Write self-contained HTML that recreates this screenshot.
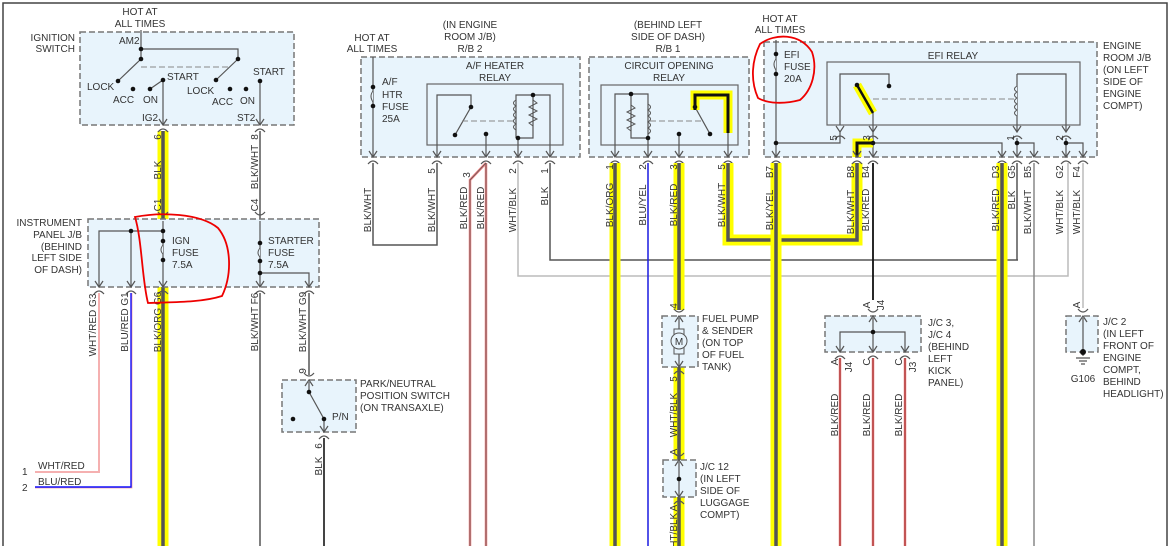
<!DOCTYPE html>
<html><head><meta charset="utf-8"><style>
html,body{margin:0;padding:0;background:#fff;width:1171px;height:546px;overflow:hidden}
svg{display:block}
text{font-family:"Liberation Sans",sans-serif;font-size:10px;fill:#333}
.bx{fill:#e8f4fc;stroke:#777;stroke-width:1.5;stroke-dasharray:6,3}
.in{fill:none;stroke:#555;stroke-width:1.2}
.w{fill:none;stroke:#555;stroke-width:1.5}
.y{fill:none;stroke:#ffff00;stroke-width:11}
.yc{fill:none;stroke:#555;stroke-width:3.5}
.d{fill:#111}
.ds{stroke:#888;stroke-width:1;stroke-dasharray:6,3;fill:none}
.rc{fill:none;stroke:#e00;stroke-width:1.8}
</style></head><body>
<svg width="1171" height="546" viewBox="0 0 1171 546" xmlns="http://www.w3.org/2000/svg">
<defs>
<g id="ar"><path d="M-4,-6 L0,0 L4,-6" fill="none" stroke="#555" stroke-width="1.2"/><path d="M-5,7 Q0,1 5,7" fill="none" stroke="#555" stroke-width="1.2"/></g>
<g id="au"><path d="M-4,6 L0,0 L4,6" fill="none" stroke="#555" stroke-width="1.2"/><path d="M-5,-7 Q0,-1 5,-7" fill="none" stroke="#555" stroke-width="1.2"/></g>
</defs>
<path d="M3,546 V3 H1167 V546" fill="none" stroke="#444" stroke-width="1.5"/>

<!-- Ignition switch -->
<rect class="bx" x="80" y="32" width="214" height="93"/>
<text x="140" y="15" text-anchor="middle">HOT AT</text><text x="140" y="27" text-anchor="middle">ALL TIMES</text>
<text x="75" y="41" text-anchor="end">IGNITION</text><text x="75" y="52" text-anchor="end">SWITCH</text>
<text x="119" y="44">AM2</text>
<path class="in" d="M141,30 V59 M141,49 H238 V59 M141,59 L118,81 M238,59 L216,80 M150,89 L163,80 M163,80 V125 M260,81 V125"/>
<path class="ds" d="M141,67 H230"/>
<circle class="d" cx="141" cy="49" r="2.3"/><circle class="d" cx="141" cy="59" r="2.3"/><circle class="d" cx="238" cy="59" r="2.3"/>
<circle class="d" cx="118" cy="81" r="2.3"/><circle class="d" cx="133" cy="89" r="2.3"/><circle class="d" cx="150" cy="89" r="2.3"/><circle class="d" cx="163" cy="80" r="2.3"/>
<circle class="d" cx="216" cy="80" r="2.3"/><circle class="d" cx="230" cy="89" r="2.3"/><circle class="d" cx="246" cy="89" r="2.3"/><circle class="d" cx="260" cy="81" r="2.3"/>
<text x="87" y="90">LOCK</text><text x="113" y="103">ACC</text><text x="143" y="103">ON</text><text x="167" y="80">START</text>
<text x="187" y="94">LOCK</text><text x="212" y="105">ACC</text><text x="240" y="104">ON</text><text x="253" y="75">START</text>
<text x="142" y="121">IG2</text><text x="237" y="121">ST2</text>

<path class="y" d="M163,131 V546"/><path class="yc" d="M163,131 V546"/>
<path class="w" d="M260,131 V219"/>
<use href="#ar" x="163" y="125"/><use href="#ar" x="260" y="125"/>
<use href="#au" x="163" y="219"/><use href="#au" x="260" y="219"/>
<g text-anchor="middle">
<text transform="translate(161,137) rotate(-90)">6</text><text transform="translate(161,170) rotate(-90)">BLK</text><text transform="translate(161,205) rotate(-90)">C1</text>
<text transform="translate(258,137) rotate(-90)">8</text><text transform="translate(258,167) rotate(-90)">BLK/WHT</text><text transform="translate(258,205) rotate(-90)">C4</text>
</g>

<!-- Instrument panel J/B -->
<rect class="bx" x="88" y="219" width="231" height="68"/>
<text x="82" y="226" text-anchor="end">INSTRUMENT</text><text x="82" y="238" text-anchor="end">PANEL J/B</text><text x="82" y="250" text-anchor="end">(BEHIND</text><text x="82" y="261" text-anchor="end">LEFT SIDE</text><text x="82" y="273" text-anchor="end">OF DASH)</text>
<path class="in" d="M163,221 V287 M163,231 H99 V287 M131,231 V287 M260,221 V287 M260,273 H309 V287"/>
<path d="M163,245 q-4,5 0,9 M260,248 q-4,5 0,9" fill="#e8f4fc" stroke="#555"/>
<circle class="d" cx="163" cy="231" r="2.3"/><circle class="d" cx="131" cy="231" r="2.3"/><circle class="d" cx="163" cy="241" r="2.3"/><circle class="d" cx="163" cy="260" r="2.3"/>
<circle class="d" cx="260" cy="243" r="2.3"/><circle class="d" cx="260" cy="261" r="2.3"/><circle class="d" cx="260" cy="273" r="2.3"/>
<text x="172" y="244">IGN</text><text x="172" y="256">FUSE</text><text x="172" y="268">7.5A</text>
<text x="268" y="244">STARTER</text><text x="268" y="256">FUSE</text><text x="268" y="268">7.5A</text>
<use href="#ar" x="99" y="287"/><use href="#ar" x="131" y="287"/><use href="#ar" x="163" y="287"/><use href="#ar" x="260" y="287"/><use href="#ar" x="309" y="287"/>
<path d="M99,293 V472 H35" fill="none" stroke="#f5b0b0" stroke-width="2"/>
<path d="M131.8,293 V487.8 H35" fill="none" stroke="#f5a0a0" stroke-width="1.2"/><path d="M131,293 V487 H35" fill="none" stroke="#1010ff" stroke-width="1.4"/>
<path class="w" d="M260,293 V546 M309,293 V375"/>
<text x="22" y="475">1</text><text x="38" y="469">WHT/RED</text><text x="22" y="491">2</text><text x="38" y="485">BLU/RED</text>
<g text-anchor="middle">
<text transform="translate(96,325) rotate(-90)">WHT/RED  G3</text>
<text transform="translate(128,322) rotate(-90)">BLU/RED  G1</text>
<text transform="translate(161,322) rotate(-90)">BLK/ORG  G6</text>
<text transform="translate(258,322) rotate(-90)">BLK/WHT  F6</text>
<text transform="translate(306,322) rotate(-90)">BLK/WHT  G9</text>
<text transform="translate(306,371) rotate(-90)">9</text>
<text transform="translate(322,446) rotate(-90)">6</text>
<text transform="translate(322,466) rotate(-90)">BLK</text>
</g>
<rect class="bx" x="282" y="380" width="74" height="52"/>
<use href="#au" x="309" y="380"/>
<path class="in" d="M309,382 V392 L324,419 V432"/>
<circle class="d" cx="309" cy="392" r="2.3"/><circle class="d" cx="324" cy="419" r="2.3"/><circle class="d" cx="293" cy="419" r="2.3"/>
<text x="332" y="420">P/N</text>
<use href="#ar" x="324" y="432"/>
<path d="M324,438 V546" fill="none" stroke="#444" stroke-width="2"/>
<text x="360" y="387">PARK/NEUTRAL</text><text x="360" y="399">POSITION SWITCH</text><text x="360" y="411">(ON TRANSAXLE)</text>

<!-- A/F heater -->
<rect class="bx" x="361" y="57" width="219" height="100"/>
<text x="372" y="41" text-anchor="middle">HOT AT</text><text x="372" y="52" text-anchor="middle">ALL TIMES</text>
<text x="470" y="28" text-anchor="middle">(IN ENGINE</text><text x="470" y="40" text-anchor="middle">ROOM J/B)</text><text x="470" y="52" text-anchor="middle">R/B 2</text>
<text x="495" y="69" text-anchor="middle">A/F HEATER</text><text x="495" y="81" text-anchor="middle">RELAY</text>
<rect x="427" y="84" width="136" height="61" fill="none" stroke="#666" stroke-width="1.2"/>
<path class="in" d="M373,57 V157 M437,157 V95 H471 V107 L455,135 M486,134 V157 M518,157 V138 M516,138 V95 H550 V157 M518,138 H533 V95"/>
<path d="M373,91 q-4,5 0,11" fill="#e8f4fc" stroke="#555"/>
<path d="M516,100 q-5,3 0,6 q-5,3 0,6 q-5,3 0,6 q-5,3 0,6 q-5,3 0,6 M533,100 l4,3 -8,4 8,4 -8,4 8,4 -8,4 4,3" fill="none" stroke="#555"/>
<path class="ds" d="M462,121 H515"/>
<circle class="d" cx="373" cy="87" r="2.3"/><circle class="d" cx="373" cy="106" r="2.3"/><circle class="d" cx="471" cy="107" r="2.3"/><circle class="d" cx="455" cy="135" r="2.3"/><circle class="d" cx="486" cy="134" r="2.3"/><circle class="d" cx="533" cy="95" r="2.3"/><circle class="d" cx="518" cy="138" r="2.3"/>
<text x="382" y="85">A/F</text><text x="382" y="98">HTR</text><text x="382" y="110">FUSE</text><text x="382" y="122">25A</text>
<use href="#ar" x="373" y="157"/><use href="#ar" x="437" y="157"/><use href="#ar" x="486" y="157"/><use href="#ar" x="518" y="157"/><use href="#ar" x="550" y="157"/>
<path class="w" d="M373,163 V245 H437 V163"/>
<path d="M486,163 L470,180 V546 M486,163 V546" fill="none" stroke="#f08080" stroke-width="2.5"/><path d="M486,163 L470,180 V546 M486,163 V546" fill="none" stroke="#555" stroke-width="0.8"/>
<path d="M518,163 V276 H1068 V163" fill="none" stroke="#bbb" stroke-width="1.5"/>
<path d="M550,163 V260 H1018" fill="none" stroke="#555" stroke-width="1.5"/>
<g text-anchor="middle">
<text transform="translate(371,210) rotate(-90)">BLK/WHT</text>
<text transform="translate(435,171) rotate(-90)">5</text><text transform="translate(435,210) rotate(-90)">BLK/WHT</text>
<text transform="translate(470,175) rotate(-90)">3</text><text transform="translate(467,208) rotate(-90)">BLK/RED</text><text transform="translate(484,208) rotate(-90)">BLK/RED</text>
<text transform="translate(516,171) rotate(-90)">2</text><text transform="translate(516,210) rotate(-90)">WHT/BLK</text>
<text transform="translate(548,171) rotate(-90)">1</text><text transform="translate(548,196) rotate(-90)">BLK</text>
</g>

<!-- Circuit opening relay -->
<rect class="bx" x="589" y="57" width="160" height="100"/>
<text x="668" y="28" text-anchor="middle">(BEHIND LEFT</text><text x="668" y="40" text-anchor="middle">SIDE OF DASH)</text><text x="668" y="52" text-anchor="middle">R/B 1</text>
<text x="669" y="69" text-anchor="middle">CIRCUIT OPENING</text><text x="669" y="81" text-anchor="middle">RELAY</text>
<rect x="601" y="85" width="137" height="60" fill="none" stroke="#666" stroke-width="1.2"/>
<path class="in" d="M615,157 V94 H648 V157 M631,94 V138 H648 M679,134 V157 M695,107 L710,134 M728,132 V157"/>
<path d="M631,105 l4,3 -8,4 8,4 -8,4 8,4 -8,4 4,3 M648,104 q5,3 0,6 q5,3 0,6 q5,3 0,6 q5,3 0,6 q5,3 0,6" fill="none" stroke="#555"/>
<path class="ds" d="M650,121 H703"/>
<path d="M695,110 V95 H728 V133" fill="none" stroke="#ffff00" stroke-width="9"/><path d="M695,110 V95 H728 V133" fill="none" stroke="#111" stroke-width="3"/>
<circle class="d" cx="631" cy="94" r="2.3"/><circle class="d" cx="648" cy="138" r="2.3"/><circle class="d" cx="679" cy="134" r="2.3"/><circle class="d" cx="695" cy="107" r="2.3"/><circle class="d" cx="710" cy="134" r="2.3"/>
<use href="#ar" x="615" y="157"/><use href="#ar" x="648" y="157"/><use href="#ar" x="679" y="157"/><use href="#ar" x="728" y="157"/>
<path class="y" d="M615,163 V546 M679,163 V310 M679,367 V462 M679,497 V546"/>
<path class="yc" d="M615,163 V546 M679,163 V310 M679,367 V462 M679,497 V546"/>
<path d="M648,163 V546" fill="none" stroke="#1a1ae0" stroke-width="1.5"/>
<path d="M728,163 V240 H857 V163" fill="none" stroke="#ffff00" stroke-width="11"/>
<path d="M728,163 V240 H857 V163" fill="none" stroke="#555" stroke-width="3.5"/>
<g text-anchor="middle">
<text transform="translate(613,167) rotate(-90)">1</text><text transform="translate(613,205) rotate(-90)">BLK/ORG</text>
<text transform="translate(646,167) rotate(-90)">2</text><text transform="translate(646,205) rotate(-90)">BLU/YEL</text>
<text transform="translate(677,167) rotate(-90)">3</text><text transform="translate(677,205) rotate(-90)">BLK/RED</text>
<text transform="translate(725,167) rotate(-90)">5</text><text transform="translate(725,205) rotate(-90)">BLK/WHT</text>
<text transform="translate(677,306) rotate(-90)">4</text><text transform="translate(677,379) rotate(-90)">5</text>
<text transform="translate(677,415) rotate(-90)">WHT/BLK</text><text transform="translate(677,452) rotate(-90)">A</text>
<text transform="translate(677,508) rotate(-90)">A</text><text transform="translate(677,535) rotate(-90)">WHT/BLK</text>
</g>
<rect class="bx" x="662" y="316" width="36" height="51"/>
<use href="#au" x="679" y="316"/><use href="#ar" x="679" y="367"/>
<path class="in" d="M679,318 V367"/>
<rect x="674" y="329" width="10" height="25" fill="#e8f4fc" stroke="#555"/>
<circle cx="679" cy="341" r="8" fill="#e8f4fc" stroke="#555"/><text x="679" y="345" text-anchor="middle">M</text>
<text x="702" y="322">FUEL PUMP</text><text x="702" y="334">&amp; SENDER</text><text x="702" y="346">(ON TOP</text><text x="702" y="358">OF FUEL</text><text x="702" y="370">TANK)</text>
<rect class="bx" x="663" y="460" width="33" height="37"/>
<use href="#au" x="679" y="460"/><use href="#ar" x="679" y="497"/>
<path class="in" d="M679,462 V497"/><circle class="d" cx="679" cy="479" r="2.3"/>
<text x="700" y="470">J/C 12</text><text x="700" y="482">(IN LEFT</text><text x="700" y="494">SIDE OF</text><text x="700" y="506">LUGGAGE</text><text x="700" y="518">COMPT)</text>

<!-- EFI -->
<rect class="bx" x="764" y="42" width="333" height="115"/>
<text x="780" y="22" text-anchor="middle">HOT AT</text><text x="780" y="33" text-anchor="middle">ALL TIMES</text>
<text x="784" y="58">EFI</text><text x="784" y="70">FUSE</text><text x="784" y="82">20A</text>
<text x="953" y="59" text-anchor="middle">EFI RELAY</text>
<rect x="827" y="62" width="253" height="63" fill="none" stroke="#666" stroke-width="1.2"/>
<path class="in" d="M776,40 V157 M776,143 H840 V132 M840,125 V74 H889 V86 M873,113 V157 M873,143 H1002 V157 M1017,74 V132 M1017,74 H1066 V132 M1017,138 V157 M1017,143 H1034 V157 M1066,138 V157 M1066,143 H1083 V157"/>
<path d="M776,59 q-4,5 0,11" fill="#e8f4fc" stroke="#555"/>
<path d="M1017,86 q-5,3 0,6 q-5,3 0,6 q-5,3 0,6 q-5,3 0,6 q-5,3 0,6" fill="#e8f4fc" stroke="#555"/>
<path class="ds" d="M873,99 H1016"/>
<path d="M857,85 L873,113" stroke="#ffff00" stroke-width="9"/><path d="M857,85 L873,113" stroke="#111" stroke-width="2.5"/>
<path d="M857,157 V143 H873" fill="none" stroke="#ffff00" stroke-width="9"/><path d="M857,157 V143 H873" fill="none" stroke="#111" stroke-width="3"/>
<circle class="d" cx="776" cy="54" r="2.3"/><circle class="d" cx="776" cy="74" r="2.3"/><circle class="d" cx="776" cy="143" r="2.3"/><circle class="d" cx="889" cy="86" r="2.3"/><circle class="d" cx="857" cy="85" r="2.3"/>
<circle class="d" cx="873" cy="143" r="2.3"/><circle class="d" cx="1017" cy="143" r="2.3"/><circle class="d" cx="1066" cy="143" r="2.3"/>
<use href="#ar" x="840" y="132"/><use href="#ar" x="873" y="132"/><use href="#ar" x="1017" y="132"/><use href="#ar" x="1066" y="132"/>
<text transform="translate(837,138) rotate(-90)" text-anchor="middle">5</text><text transform="translate(870,138) rotate(-90)" text-anchor="middle">3</text>
<text transform="translate(1014,138) rotate(-90)" text-anchor="middle">1</text><text transform="translate(1063,138) rotate(-90)" text-anchor="middle">2</text>
<use href="#ar" x="776" y="157"/><use href="#ar" x="857" y="157"/><use href="#ar" x="873" y="157"/><use href="#ar" x="1002" y="157"/><use href="#ar" x="1017" y="157"/><use href="#ar" x="1034" y="157"/><use href="#ar" x="1066" y="157"/><use href="#ar" x="1083" y="157"/>
<text x="1103" y="49">ENGINE</text><text x="1103" y="61">ROOM J/B</text><text x="1103" y="73">(ON LEFT</text><text x="1103" y="85">SIDE OF</text><text x="1103" y="97">ENGINE</text><text x="1103" y="109">COMPT)</text>
<path class="y" d="M776,163 V546 M1002,163 V546"/><path class="yc" d="M776,163 V546 M1002,163 V546"/>
<path d="M873,163 V300" fill="none" stroke="#111" stroke-width="1.8"/>
<path class="w" d="M1017,163 V260"/>
<path d="M1034,163 V546" fill="none" stroke="#888" stroke-width="1.5"/>
<path d="M1083,163 V308" fill="none" stroke="#bbb" stroke-width="1.5"/>
<g text-anchor="middle">
<text transform="translate(773,172) rotate(-90)">B7</text><text transform="translate(773,210) rotate(-90)">BLK/YEL</text>
<text transform="translate(854,172) rotate(-90)">B8</text><text transform="translate(854,212) rotate(-90)">BLK/WHT</text>
<text transform="translate(869,172) rotate(-90)">B4</text><text transform="translate(869,210) rotate(-90)">BLK/RED</text>
<text transform="translate(999,172) rotate(-90)">D3</text><text transform="translate(999,210) rotate(-90)">BLK/RED</text>
<text transform="translate(1015,172) rotate(-90)">G5</text><text transform="translate(1015,200) rotate(-90)">BLK</text>
<text transform="translate(1031,172) rotate(-90)">B5</text><text transform="translate(1031,212) rotate(-90)">BLK/WHT</text>
<text transform="translate(1063,172) rotate(-90)">G2</text><text transform="translate(1063,212) rotate(-90)">WHT/BLK</text>
<text transform="translate(1080,172) rotate(-90)">F4</text><text transform="translate(1080,212) rotate(-90)">WHT/BLK</text>
<text transform="translate(870,305) rotate(-90)">A</text><text transform="translate(884,305) rotate(-90)">J4</text>
<text transform="translate(838,362) rotate(-90)">A</text><text transform="translate(852,367) rotate(-90)">J4</text>
<text transform="translate(870,362) rotate(-90)">C</text><text transform="translate(902,362) rotate(-90)">C</text><text transform="translate(916,367) rotate(-90)">J3</text>
<text transform="translate(838,415) rotate(-90)">BLK/RED</text><text transform="translate(870,415) rotate(-90)">BLK/RED</text><text transform="translate(902,415) rotate(-90)">BLK/RED</text>
<text transform="translate(1080,305) rotate(-90)">A</text>
</g>
<rect class="bx" x="825" y="316" width="96" height="36"/>
<use href="#au" x="873" y="316"/>
<path class="in" d="M873,318 V352 M840,352 V332 H905 V352"/><circle class="d" cx="873" cy="332" r="2.3"/>
<use href="#ar" x="840" y="352"/><use href="#ar" x="873" y="352"/><use href="#ar" x="905" y="352"/>
<path d="M840,358 V546 M873,358 V546 M905,358 V546" fill="none" stroke="#f08080" stroke-width="2.5"/>
<path d="M840,358 V546 M873,358 V546 M905,358 V546" fill="none" stroke="#8a2020" stroke-width="0.9"/>
<text x="928" y="326">J/C 3,</text><text x="928" y="338">J/C 4</text><text x="928" y="350">(BEHIND</text><text x="928" y="362">LEFT</text><text x="928" y="374">KICK</text><text x="928" y="386">PANEL)</text>
<rect class="bx" x="1066" y="316" width="32" height="36"/>
<use href="#au" x="1083" y="316"/>
<path class="in" d="M1083,318 V356 M1076,358 H1090 M1079,361 H1087 M1081,364 H1085"/><circle class="d" cx="1083" cy="352" r="3"/>
<text x="1083" y="382" text-anchor="middle">G106</text>
<text x="1103" y="325">J/C 2</text><text x="1103" y="337">(IN LEFT</text><text x="1103" y="349">FRONT OF</text><text x="1103" y="361">ENGINE</text><text x="1103" y="373">COMPT,</text><text x="1103" y="385">BEHIND</text><text x="1103" y="397">HEADLIGHT)</text>

<path class="rc" d="M135,217 C160,212 200,213 218,228 C232,245 232,275 222,296 C200,303 170,302 148,303 C142,280 142,240 135,217 Z"/>
<path class="rc" d="M760,44 C775,33 800,33 812,52 C818,70 812,90 800,100 C785,104 768,104 758,98 C750,80 752,60 760,44 Z"/>
</svg>
</body></html>
